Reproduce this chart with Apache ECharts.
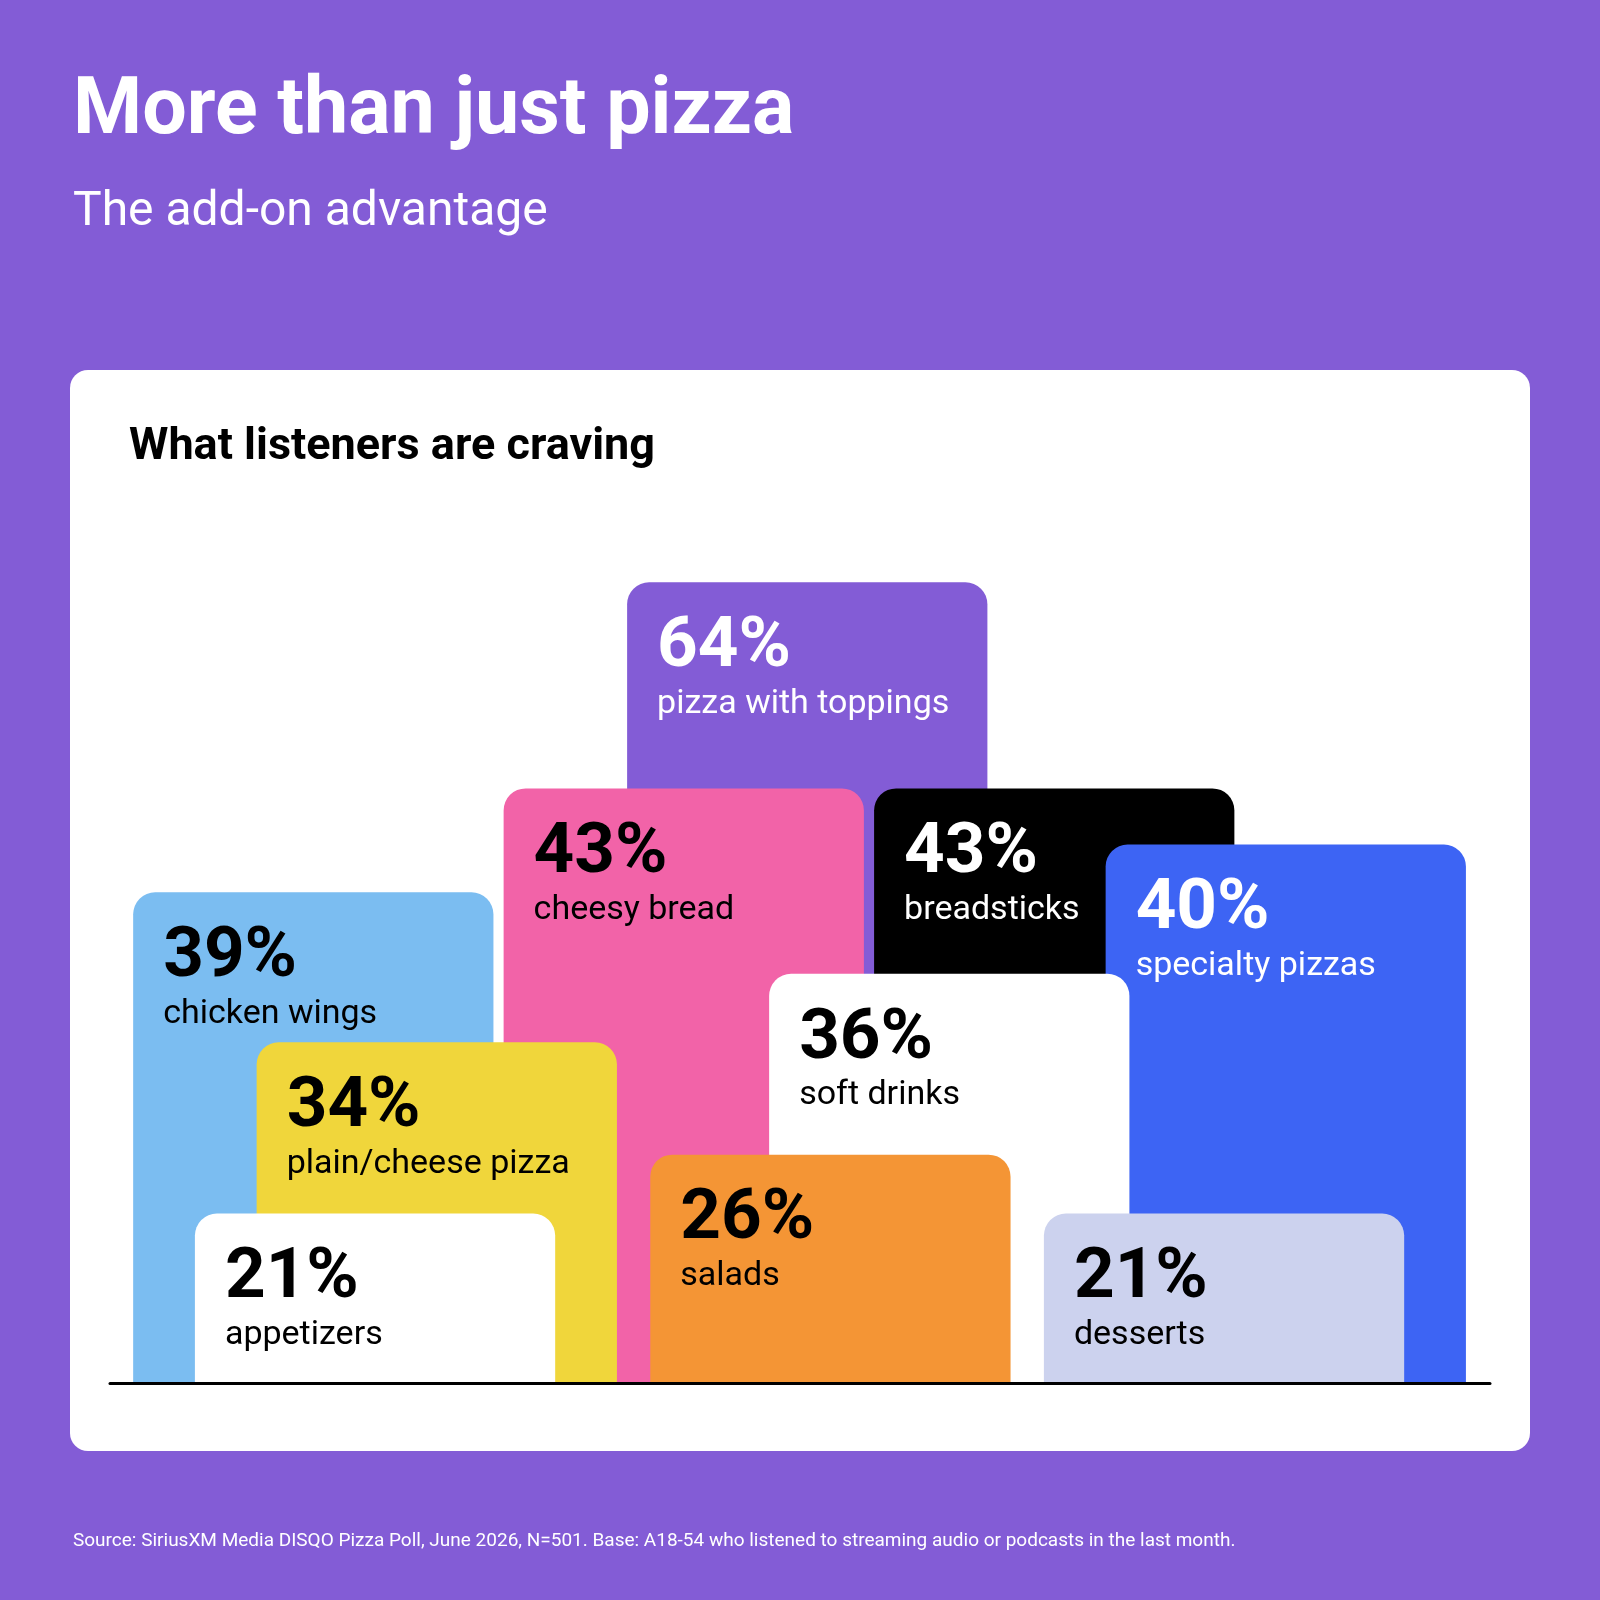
<!DOCTYPE html>
<html>
<head>
<meta charset="utf-8">
<script src="https://cdn.jsdelivr.net/npm/echarts@6/dist/echarts.min.js"></script>
<style>
  html, body { margin: 0; padding: 0; background: #835CD6; }
  #chart { width: 1600px; height: 1600px; }
</style>
</head>
<body>
<div id="chart"></div>
<script>
  // data, in drawing order (back to front)
  var categories = ['pizza with toppings', 'chicken wings', 'cheesy bread', 'breadsticks', 'specialty pizzas',
                    'soft drinks', 'plain/cheese pizza', 'salads', 'appetizers', 'desserts'];
  var values = [64, 39, 43, 43, 40, 36, 34, 26, 21, 21];

  // card layout in axis units (1 unit = one twelfth of a column)
  var slotStart = [16, 0, 12, 24, 31.5, 20.6, 4, 16.75, 2, 29.5];
  var slotLevel = [25.95, 15.9, 19.27, 19.27, 17.45, 13.26, 11.04, 7.4, 5.49, 5.49];
  var CARD_W = 11.67;

  var cardColors = ['#835CD6', '#7BBDF1', '#F263A8', '#000000', '#3D64F4',
                    '#FFFFFF', '#F0D63B', '#F49535', '#FFFFFF', '#CCD2EE'];
  var textColors = ['#fff', '#000', '#000', '#fff', '#fff', '#000', '#000', '#000', '#000', '#000'];

  var FONT = 'Roboto, "Noto Sans", sans-serif';

  var myChart = echarts.init(document.getElementById('chart'));

  function renderCard(params, api) {
    var i = params.dataIndex;
    var x0 = api.value(0);
    var lvl = api.value(1);
    var p0 = api.coord([x0, lvl]);
    var p1 = api.coord([x0 + CARD_W, 0]);
    return {
      type: 'group',
      children: [
        {
          type: 'rect',
          shape: { x: p0[0], y: p0[1], width: p1[0] - p0[0], height: p1[1] - p0[1], r: [22, 22, 0, 0] },
          style: { fill: cardColors[i] }
        },
        {
          type: 'text',
          x: p0[0] + 30,
          y: p0[1] + 66,
          style: {
            text: api.value(2) + '%',
            fill: textColors[i],
            font: 'bold 71px ' + FONT,
            verticalAlign: 'middle'
          }
        },
        {
          type: 'text',
          x: p0[0] + 30,
          y: p0[1] + 122,
          style: {
            text: categories[i],
            fill: textColors[i],
            font: '34px ' + FONT,
            verticalAlign: 'middle'
          }
        }
      ]
    };
  }

  var option = {
    backgroundColor: '#835CD6',
    animation: false,
    title: [
      {
        text: 'More than just pizza',
        left: 73, top: 74, padding: 0,
        textStyle: { color: '#fff', fontSize: 79, fontWeight: 'bold', fontFamily: FONT }
      },
      {
        text: 'The add-on advantage',
        left: 73, top: 189, padding: 0,
        textStyle: { color: '#fff', fontSize: 48, fontWeight: 'normal', fontFamily: FONT }
      },
      {
        text: 'What listeners are craving',
        left: 129, top: 425, padding: 0,
        textStyle: { color: '#000', fontSize: 45, fontWeight: 'bold', fontFamily: FONT }
      },
      {
        text: 'Source: SiriusXM Media DISQO Pizza Poll, June 2026, N=501. Base: A18-54 who listened to streaming audio or podcasts in the last month.',
        left: 73, top: 1532, padding: 0,
        textStyle: { color: '#fff', fontSize: 19, fontWeight: 'normal', fontFamily: FONT }
      }
    ],
    graphic: [
      {
        type: 'rect',
        z: -10,
        shape: { x: 70, y: 370, width: 1460, height: 1081, r: 18 },
        style: { fill: '#FFFFFF' }
      }
    ],
    grid: { left: 110, right: 110, bottom: 217, top: 519 },
    xAxis: {
      type: 'value',
      min: -0.75,
      max: 43.95,
      z: 10,
      axisLine: { show: true, lineStyle: { color: '#000', width: 3 } },
      axisTick: { show: false },
      axisLabel: { show: false },
      splitLine: { show: false }
    },
    yAxis: {
      type: 'value',
      min: 0,
      max: 28,
      show: false
    },
    series: [
      {
        type: 'custom',
        renderItem: renderCard,
        clip: false,
        encode: { x: 0, y: 1 },
        data: values.map(function (v, i) {
          return [slotStart[i], slotLevel[i], v];
        })
      }
    ]
  };

  myChart.setOption(option);
</script>
</body>
</html>
